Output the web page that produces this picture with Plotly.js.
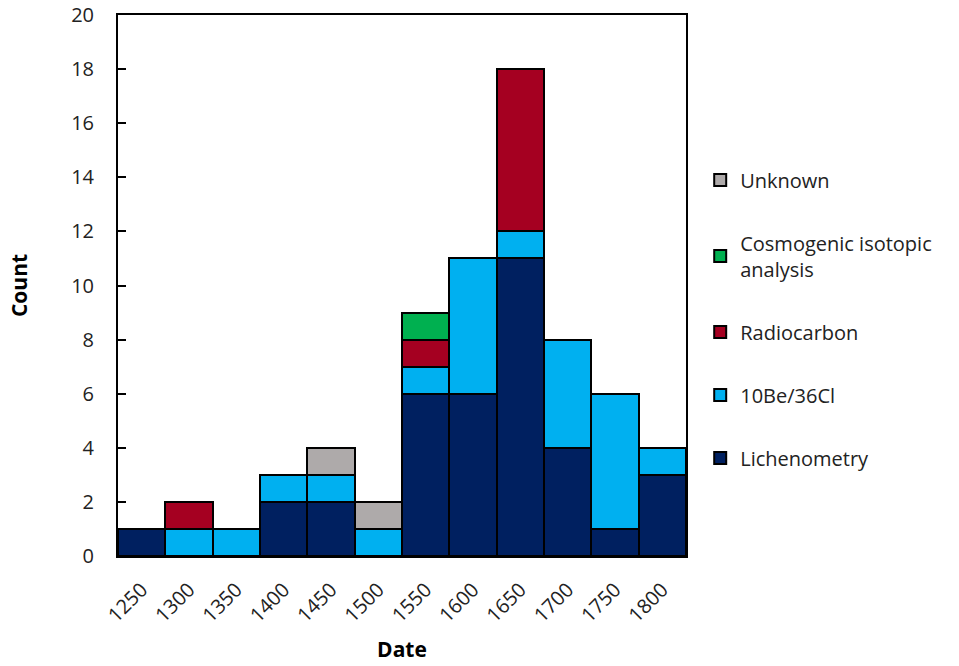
<!DOCTYPE html>
<html><head><meta charset="utf-8">
<script src="https://cdn.plot.ly/plotly-3.0.1.min.js"></script>
<style>html,body{margin:0;padding:0;background:#fff}</style>
</head><body>
<div id="chart" style="width:959px;height:666px"></div>
<script>
const dates = ['1250','1300','1350','1400','1450','1500','1550','1600','1650','1700','1750','1800'];
const lichenometry = [1,0,0,2,2,0,6,6,11,4,1,3];
const beCl = [0,1,1,1,1,1,1,5,1,4,5,1];
const radiocarbon = [0,1,0,0,0,0,1,0,6,0,0,0];
const cosmogenic = [0,0,0,0,0,0,1,0,0,0,0,0];
const unknown = [0,0,0,0,1,1,0,0,0,0,0,0];

const names = ['Lichenometry','10Be/36Cl','Radiocarbon','Cosmogenic isotopic<br>analysis','Unknown'];
const series = [lichenometry, beCl, radiocarbon, cosmogenic, unknown];
const colors = ['#002060','#00B0F0','#A50021','#00B050','#AEAAAA'];

const traces = series.map((s,i)=>({
  type:'bar', x:dates, y:s, name:names[i], legendgroup:'g'+i, legendrank: 10-i,
  marker:{color:colors[i], line:{color:'#000', width:2}},
  hoverinfo:'x+y+name'
}));

const font = "'Open Sans', sans-serif";
const layout = {
  width:959, height:666,
  barmode:'stack', bargap:0,
  margin:{l:118, r:273, t:15, b:110},
  paper_bgcolor:'#fff', plot_bgcolor:'#fff',
  font:{family:font, size:20, color:'#222'},
  xaxis:{
    type:'category', tickangle:-45, ticks:'', showline:true, linecolor:'#000', linewidth:2,
    mirror:true, tickfont:{size:20, color:'#222'}, ticklabelstandoff:12,
    title:{text:'<b>Date</b>', font:{size:21, color:'#000'}, standoff:16}
  },
  yaxis:{
    range:[0,20], dtick:2, ticks:'inside', ticklen:8, tickwidth:2, tickcolor:'#000',
    showline:true, linecolor:'#000', linewidth:2, mirror:true, showgrid:false, zeroline:false,
    tickfont:{size:20, color:'#222'}, ticklabelstandoff:18,
    title:{text:'<b>Count</b>', font:{size:21, color:'#000'}, standoff:38}
  },
  legend:{
    x:1.025, xanchor:'left', y:0.731, yanchor:'top',
    traceorder:'grouped', tracegroupgap:34,
    font:{size:20, color:'#222'}, bgcolor:'rgba(0,0,0,0)',
    itemwidth:30
  },
  showlegend:true
};
Plotly.newPlot('chart', traces, layout, {displayModeBar:false});
</script>
</body></html>
